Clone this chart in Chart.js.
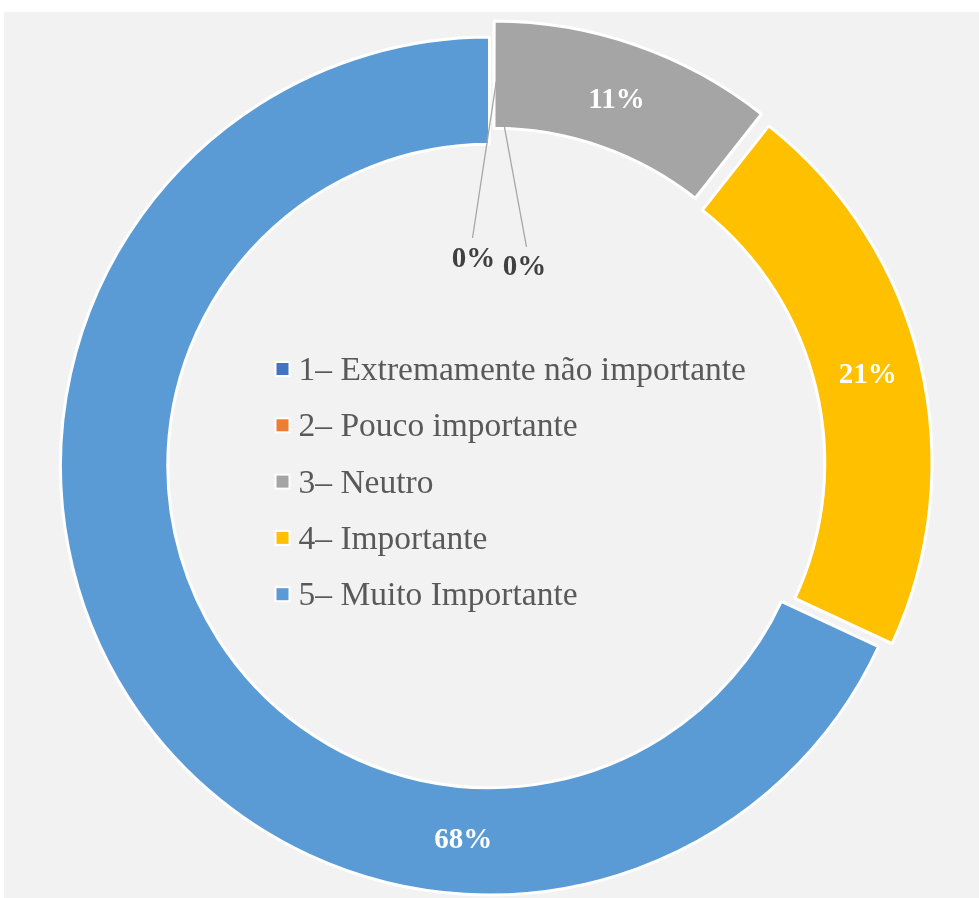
<!DOCTYPE html>
<html><head><meta charset="utf-8">
<script src="https://cdn.jsdelivr.net/npm/chart.js@4.4.1/dist/chart.umd.min.js"></script>
<style>html,body{margin:0;padding:0;background:#fff;overflow:hidden}#wrap{position:relative;width:979px;height:898px}</style>
</head><body><div id="wrap"><canvas id="c" width="979" height="898"></canvas></div>
<script>
// ---- data ----
const categories = ['1– Extremamente não importante', '2– Pouco importante', '3– Neutro', '4– Importante', '5– Muito Importante'];
const responses = [0, 0, 5, 10, 32];
// ---- styles ----
const sliceColors = ['#4472C4', '#ED7D31', '#A5A5A5', '#FFC000', '#5B9BD5'];
// Chart.js v4 moves an arc by offset/4 pixels
const sliceOffsets = [0, 0, 48, 54, 0];

const total = responses.reduce((a, b) => a + b, 0);
const pctText = v => Math.round(v / total * 100) + '%';
const SERIF = "'Liberation Serif','Times New Roman',serif";

const bgPlugin = {
  id: 'bg',
  beforeDraw(chart) {
    const ctx = chart.ctx;
    ctx.save();
    ctx.fillStyle = '#ffffff';
    ctx.fillRect(0, 0, chart.width, chart.height);
    ctx.fillStyle = '#F2F2F2';
    ctx.fillRect(4, 12, chart.width - 4, chart.height - 12);
    ctx.restore();
  }
};

const labelPlugin = {
  id: 'sliceLabels',
  afterDatasetsDraw(chart) {
    const ctx = chart.ctx;
    const meta = chart.getDatasetMeta(0);
    ctx.save();
    ctx.textAlign = 'center';
    ctx.textBaseline = 'middle';
    ctx.font = 'bold 29px ' + SERIF;
    meta.data.forEach((arc, i) => {
      const p = arc.getProps(['x', 'y', 'startAngle', 'endAngle', 'innerRadius', 'outerRadius'], true);
      const off = (arc.options.offset || 0) / 4;
      const v = responses[i];
      if (v === 0) {
        const a = p.startAngle + Math.PI / 180;
        const ra = p.outerRadius * 0.895;
        const ax = p.x + Math.cos(a) * ra, ay = p.y + Math.sin(a) * ra;
        const side = (i === 0) ? -1 : 1;
        const ex = p.x + (side < 0 ? -17 : 37), ey = p.y + (side < 0 ? -228 : -219);
        const tx = p.x + (side < 0 ? -16 : 35), ty = p.y + (side < 0 ? -206 : -198);
        ctx.strokeStyle = '#A6A6A6';
        ctx.lineWidth = 1.3;
        ctx.beginPath(); ctx.moveTo(ax, ay); ctx.lineTo(ex, ey); ctx.stroke();
        ctx.fillStyle = '#404040';
        ctx.fillText(pctText(v), tx, ty);
      } else {
        let a = (p.startAngle + p.endAngle) / 2;
        if (i === responses.length - 1) a = -Math.PI / 2 + 184 * Math.PI / 180;
        const r = (p.innerRadius + p.outerRadius) / 2 + off;
        ctx.fillStyle = '#ffffff';
        ctx.fillText(pctText(v), p.x + Math.cos(a) * r, p.y + Math.sin(a) * r);
      }
    });
    ctx.restore();
  }
};

const legendPlugin = {
  id: 'centerLegend',
  afterDraw(chart) {
    const ctx = chart.ctx;
    const arc = chart.getDatasetMeta(0).data[0];
    const cx = arc.x, cy = arc.y;
    ctx.save();
    ctx.font = '33.5px ' + SERIF;
    ctx.textAlign = 'left';
    ctx.textBaseline = 'alphabetic';
    chart.data.labels.forEach((lab, i) => {
      const rowY = cy - 97 + i * 56.3;
      ctx.fillStyle = '#ffffff';
      ctx.fillRect(cx - 215, rowY - 8, 16, 16);
      ctx.fillStyle = sliceColors[i];
      ctx.fillRect(cx - 213, rowY - 6, 12, 12);
      ctx.fillStyle = '#595959';
      ctx.fillText(lab, cx - 191, rowY + 11);
    });
    ctx.restore();
  }
};

new Chart(document.getElementById('c'), {
  type: 'doughnut',
  data: {
    labels: categories,
    datasets: [{
      data: responses,
      backgroundColor: sliceColors,
      borderColor: '#ffffff',
      borderWidth: 3,
      offset: sliceOffsets,
      hoverOffset: 0
    }]
  },
  options: {
    responsive: false,
    devicePixelRatio: 1,
    animation: false,
    events: [],
    radius: 429,
    cutout: '75%',
    layout: { padding: { top: 34, left: 0, right: 0, bottom: 0 } },
    plugins: { legend: { display: false }, tooltip: { enabled: false } }
  },
  plugins: [bgPlugin, labelPlugin, legendPlugin]
});
</script>
</body></html>
